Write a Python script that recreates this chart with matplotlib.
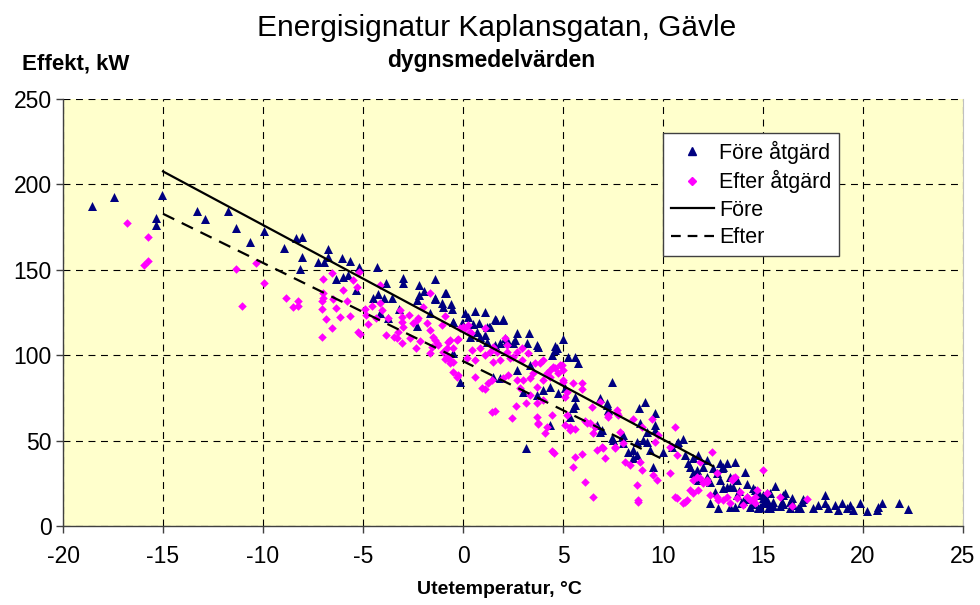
import numpy as np
import matplotlib
matplotlib.use('Agg')
import matplotlib.pyplot as plt
from matplotlib.lines import Line2D

plt.rcParams['font.family'] = ['Liberation Sans', 'DejaVu Sans']
plt.rcParams['lines.scale_dashes'] = False
plt.rcParams['axes.unicode_minus'] = False

# dygnsmedelvärden, (utetemperatur °C, effekt kW)
fore_pts = [
    (-18.55,187.6),(-17.45,192.5),(-15.05,193.6),(-15.35,180.6),(-15.35,176.5),(-13.3,184.6),(-12.9,180.0),
    (-11.75,184.6),(-11.35,174.7),(-10.65,166.0),(-9.97,172.9),(-8.97,163.0),(-8.37,168.8),(-8.05,169.4),
    (-8.05,157.3),(-8.15,150.3),(-6.77,162.0),(-6.77,157.3),(-7.27,154.6),(-6.97,154.6),(-6.07,156.7),
    (-5.67,155.0),(-6.37,144.4),(-6.0,145.6),(-5.73,147.0),(-5.37,138.2),(-5.18,151.5),(-4.28,151.9),
    (-3.85,142.0),(-2.98,145.4),(-2.98,142.0),(-1.38,144.4),(-4.52,133.7),(-4.23,135.8),(-3.95,133.4),
    (-3.57,133.4),(-4.15,124.7),(-2.18,141.1),(-1.95,137.6),(-2.32,132.3),(-2.18,135.2),(-1.38,132.7),
    (-0.9,136.2),(-1.07,130.4),(-1.02,128.4),(-0.62,130.0),(-0.57,126.9),(-3.18,127.3),(-3.73,122.0),
    (-1.65,124.7),(-2.32,117.1),(-0.52,119.6),(-0.48,101.1),(-0.87,136.6),(-1.4,133.4),
    (0.08,124.9),(0.58,125.9),(1.08,125.5),(-0.48,119.6),(-0.03,118.7),(0.27,122.5),(0.48,118.3),
    (0.82,119.0),(1.32,116.7),(1.65,120.6),(2.02,120.6),(0.68,113.8),(0.35,110.9),(0.85,110.9),
    (1.18,108.0),(1.6,106.0),(2.1,109.9),(2.6,108.9),(2.72,112.8),(3.32,113.2),(3.18,107.0),(3.68,106.0),
    (4.6,103.0),(5.02,109.3),(5.27,98.8),(5.6,98.8),(5.77,95.3),(7.43,84.5),(-0.15,84.5),(1.5,87.4),
    (1.85,86.5),(2.68,91.3),(3.0,78.6),(3.68,76.7),(4.02,79.6),(4.35,81.6),(4.77,77.7),(5.1,80.6),
    (5.6,75.7),(5.6,70.8),(5.35,64.0),(4.35,59.1),(6.68,59.1),(6.85,55.2),(6.85,74.8),(7.18,71.8),
    (7.27,67.9),(3.35,94.3),(1.6,121.2),(1.98,121.2),(3.77,105.0),(4.68,104.0),(2.18,108.9),(2.52,107.0),
    (1.85,107.0),(1.1,111.8),(1.18,116.7),(1.35,116.7),(4.6,105.5),(4.43,100.0),(3.13,45.5),(5.52,68.9),
    (9.1,72.8),(9.6,66.0),(7.18,70.8),(8.85,60.1),(9.18,55.2),(9.6,59.1),(9.6,56.2),(6.93,56.2),
    (7.52,50.4),(8.02,53.3),(8.02,48.4),(8.68,49.4),(9.02,50.4),(9.18,49.4),(8.52,44.5),(8.52,39.6),
    (9.35,44.5),(10.02,43.5),(9.52,34.4),(10.77,49.4),(11.02,50.8),(10.43,46.4),(11.1,41.6),(11.27,36.7),
    (11.77,41.6),(12.18,38.6),(12.52,33.8),(12.93,33.8),(13.6,37.6),(14.1,31.8),(11.52,30.9),(11.85,26.9),
    (12.18,28.9),(12.85,26.9),(13.18,23.0),(13.52,23.0),(13.68,18.1),(14.18,17.2),(14.68,18.1),(15.18,19.1),
    (15.02,13.3),(12.35,13.3),(12.77,10.4),(13.35,11.3),(8.8,68.9),(7.47,51.3),(7.93,52.3),(8.68,41.6),
    (8.27,43.5),(15.6,23.4),(14.6,21.0),(15.02,18.1),(15.35,19.1),(15.18,14.2),(15.52,14.2),(14.85,11.3),
    (15.27,10.4),(16.1,19.5),(15.93,14.2),(16.43,16.2),(16.52,12.3),(16.85,10.4),(16.93,14.2),(17.52,10.4),
    (17.77,12.3),(18.1,18.1),(18.1,13.3),(18.27,10.4),(18.6,12.3),(18.77,9.4),(18.93,13.3),(19.18,10.4),
    (19.35,12.3),(19.52,9.4),(19.85,13.6),(20.18,9.0),(20.68,9.4),(20.77,11.3),(20.93,13.6),(21.8,13.3),
    (22.27,10.0),(11.35,34.7),(11.68,32.8),(12.02,34.7),(12.68,30.9),(13.02,34.7),(13.35,28.9),(13.68,26.9),
    (14.52,22.1),(14.77,20.1),(15.18,15.2),(16.02,18.1),(16.35,14.2),(17.02,15.6),(11.77,26.9),(12.35,25.9),
    (13.02,22.1),(13.35,23.0),(13.6,11.3),(14.35,11.3),(14.77,10.4),(15.35,10.4),(15.85,11.7),(16.35,10.4),
    (16.77,10.4),(10.68,48.4),(11.52,40.0),(12.85,36.7),(13.18,36.7),(14.0,14.5),(14.3,16.0),(14.5,13.0),
    (15.0,16.5),(15.5,12.0),(16.0,13.0),(13.8,20.5),(14.2,24.5),(12.6,20.0),(13.9,13.5),
]
efter_pts = [
    (-16.8,177.2),(-15.77,169.2),(-15.73,155.3),(-15.93,152.8),(-11.35,150.3),(-10.37,153.8),(-11.07,128.8),
    (-9.97,142.3),(-8.87,133.7),(-8.27,131.9),(-8.48,128.4),(-8.27,129.0),(-6.98,144.6),(-6.57,147.9),
    (-6.98,136.6),(-6.98,133.3),(-7.07,131.9),(-7.07,127.0),(-6.48,132.7),(-6.35,127.6),(-6.87,121.4),
    (-6.57,115.7),(-7.07,110.5),(-5.98,138.2),(-5.78,131.9),(-6.15,122.2),(-5.65,123.0),(-5.48,144.0),
    (-5.32,140.1),(-5.27,113.8),(-5.18,148.9),(-5.15,112.4),(-4.88,127.0),(-4.77,118.3),(-4.57,128.8),
    (-4.85,123.7),(-4.15,141.1),(-4.15,130.7),(-4.07,126.5),(-4.35,121.6),(-3.73,121.6),(-3.85,111.8),
    (-3.45,110.8),(-3.23,113.8),(-3.32,109.9),(-3.07,107.3),(-3.15,126.5),(-3.07,122.5),(-3.07,119.6),
    (-2.98,116.7),(-2.68,123.5),(-2.48,118.7),(-2.32,120.6),(-2.23,121.6),(-2.65,109.9),(-2.37,104.4),
    (-2.15,108.5),(-1.98,128.0),(-1.65,136.6),(-1.82,118.7),(-1.65,114.8),(-1.48,110.8),(-1.4,108.9),
    (-1.65,101.1),(-0.9,123.0),(-1.23,106.0),(-0.98,102.0),(-0.65,108.9),(-0.48,104.0),(-0.65,97.2),
    (-0.48,90.3),(-0.28,87.4),(-0.23,109.3),(-1.07,117.7),(0.08,115.7),(0.42,112.8),(0.25,117.7),
    (1.08,115.7),(2.08,109.9),(-0.73,108.0),(-0.32,108.9),(-0.82,104.0),(-0.9,97.6),(-0.48,96.2),
    (-0.23,88.4),(0.18,98.2),(0.43,103.0),(0.6,97.2),(0.85,104.0),(1.1,100.1),(1.35,102.0),(1.52,96.2),
    (1.85,97.2),(2.18,102.0),(2.35,98.2),(2.68,102.0),(2.93,104.0),(3.27,101.1),(3.6,95.3),(4.02,97.2),
    (4.35,91.3),(4.6,92.3),(4.85,94.3),(0.6,87.4),(0.93,80.6),(1.27,83.5),(1.43,85.5),(2.02,86.5),
    (2.27,88.4),(2.68,85.5),(3.02,85.5),(3.35,86.5),(2.85,80.6),(3.35,76.7),(3.68,81.6),(4.02,85.5),
    (4.35,87.4),(1.43,66.9),(2.65,70.3),(3.15,71.8),(2.43,63.0),(3.68,71.8),(4.02,73.8),(4.43,65.0),
    (3.68,64.0),(3.77,60.1),(4.18,58.1),(4.1,54.2),(4.77,89.4),(5.02,85.5),(4.93,94.3),(5.1,75.7),
    (5.18,78.6),(5.52,83.5),(5.93,83.5),(5.93,80.0),(5.18,65.0),(5.35,58.1),(5.6,56.6),(6.1,61.6),
    (6.43,69.8),(6.35,60.1),(6.6,58.1),(6.85,72.8),(7.27,64.0),(7.68,66.0),(-0.15,115.7),(0.02,116.7),
    (0.35,113.8),(2.18,106.0),(1.52,105.0),(1.68,102.0),(2.52,99.1),(2.93,97.2),(1.08,80.0),(1.58,67.5),
    (3.52,89.4),(3.85,95.3),(4.18,89.4),(4.52,93.3),(5.02,91.3),(5.02,84.5),(-1.57,105.0),(-1.32,107.0),
    (-0.82,99.1),(-0.65,95.3),(3.77,59.7),(4.43,44.1),(4.55,42.6),(5.1,59.1),(5.35,56.2),(5.6,40.2),
    (5.93,42.2),(5.52,34.7),(6.1,25.9),(6.52,16.8),(6.68,44.5),(7.02,45.5),(7.1,39.6),(7.6,46.4),
    (6.18,60.1),(6.52,54.2),(7.27,65.0),(7.68,67.9),(7.77,65.0),(7.85,55.2),(8.02,48.4),(7.6,45.5),
    (6.93,46.4),(8.52,62.5),(9.43,62.5),(8.93,58.1),(9.77,53.3),(9.6,49.4),(10.35,46.4),(10.6,58.1),
    (10.68,41.6),(8.1,37.6),(8.35,35.7),(8.85,37.6),(8.93,32.8),(9.52,29.9),(9.68,26.9),(10.35,30.9),
    (8.68,24.0),(8.77,15.2),(10.68,16.2),(11.1,14.2),(11.35,21.1),(11.52,26.9),(11.85,27.9),(11.85,37.6),
    (12.43,43.5),(12.68,30.9),(12.18,25.9),(12.35,18.1),(12.77,15.2),(13.18,17.2),(13.52,27.9),(13.85,20.1),
    (14.18,17.2),(14.52,15.2),(14.02,12.3),(14.68,21.1),(15.02,32.8),(14.6,13.3),(15.18,19.1),(15.85,17.2),
    (16.43,11.7),(17.18,15.6),(11.68,28.9),(12.02,25.0),(12.18,26.9),(11.77,21.1),(11.52,19.1),(11.18,15.2),
    (11.02,13.3),(10.6,17.2),(12.68,17.2),(13.02,15.2),(13.35,13.3),(13.68,16.2),(14.35,15.2),(14.6,17.2),
    (13.6,28.9),(13.43,26.9),(8.77,14.2),
]
# regressionslinjer (ändpunkter)
fore_line_x = [-15.0, 12.5]
fore_line_y = [207.6, 35.0]
efter_line_x = [-15.0, 10.3]
efter_line_y = [182.8, 37.3]

xticks = list(range(-20, 30, 5))
yticks = list(range(0, 300, 50))

fore = np.array(fore_pts); efter = np.array(efter_pts)

W, H = 980, 605
fig = plt.figure(figsize=(W/100, H/100), dpi=100)
ax = fig.add_axes([63/W, 1-526/H, 900/W, 427/H])
ax.set_facecolor('#FFFFCC')

ax.scatter(fore[:,0], fore[:,1], marker='^', s=42, c='#000080', linewidths=0, zorder=3)
ax.scatter(efter[:,0], efter[:,1], marker='D', s=19, c='#FF00FF', linewidths=0, zorder=3)
ax.plot(fore_line_x, fore_line_y, color='black', lw=1.6, zorder=4)
ax.plot(efter_line_x, efter_line_y, color='black', lw=1.6, dashes=(9, 6), zorder=4)

ax.set_xlim(-20, 25); ax.set_ylim(0, 250)
ax.set_xticks(xticks); ax.set_yticks(yticks)
ax.grid(True, color='black', lw=0.8, dashes=(5, 4))
ax.set_axisbelow(True)
ax.spines['top'].set_visible(False)
ax.spines['right'].set_color('#c0c0c0')
for s in ['left', 'bottom']:
    ax.spines[s].set_color('#404040'); ax.spines[s].set_linewidth(1.0)
ax.tick_params(direction='out', length=5, width=1, color='#404040', labelsize=16.5)
ax.tick_params(axis='x', pad=9)
ax.tick_params(axis='y', pad=3)

h = [Line2D([], [], ls='none', marker='^', ms=6, color='#000080'),
     Line2D([], [], ls='none', marker='D', ms=4, color='#FF00FF'),
     Line2D([], [], color='black', lw=1.6),
     Line2D([], [], color='black', lw=1.6, dashes=(7, 5))]
leg = ax.legend(h, ['Före åtgärd', 'Efter åtgärd', 'Före', 'Efter'], loc='upper left',
                bbox_to_anchor=((663-63)/900, (526-133)/427), fontsize=15.5, frameon=True,
                fancybox=False, edgecolor='#404040', framealpha=1, handlelength=2.0,
                handletextpad=0.25, labelspacing=0.3, borderpad=0.35, borderaxespad=0)
leg.get_frame().set_linewidth(1.0)

fig.text(497/W, 1-28/H, 'Energisignatur Kaplansgatan, Gävle', ha='center', va='center', fontsize=21.5)
fig.text(491/W, 1-60/H, 'dygnsmedelvärden', ha='center', va='center', fontsize=16.5, fontweight='bold')
fig.text(22/W, 1-64/H, 'Effekt, kW', ha='left', va='center', fontsize=16, fontweight='bold')
fig.text(499/W, 1-590/H, 'Utetemperatur, °C', ha='center', va='center', fontsize=14, fontweight='bold')

fig.savefig('out.png', dpi=100)
